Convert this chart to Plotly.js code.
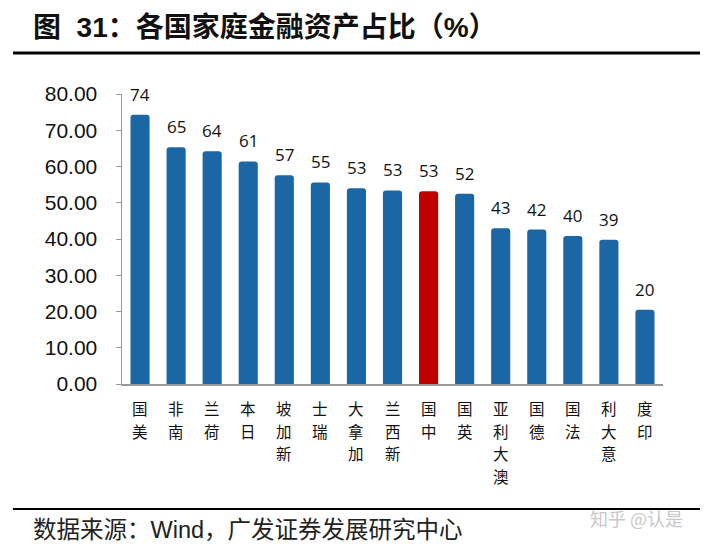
<!DOCTYPE html>
<html>
<head>
<meta charset="utf-8">
<script src="https://cdn.plot.ly/plotly-3.0.1.min.js"></script>
<style>html,body{margin:0;padding:0;background:#fff;}</style>
</head>
<body>
<div id="chart" style="width:707px;height:550px;"></div>
<script>
var countries = ["美国","南非","荷兰","日本","新加坡","瑞士","加拿大","新西兰","中国","英国","澳大利亚","德国","法国","意大利","印度"];
var values = [74.3, 65.3, 64.2, 61.4, 57.6, 55.6, 54.0, 53.4, 53.2, 52.5, 43.0, 42.6, 40.8, 39.8, 20.5];
var labels = ["74","65","64","61","57","55","53","53","53","52","43","42","40","39","20"];
var yTickVals = [0,10,20,30,40,50,60,70,80];
var yTickText = ["0.00","10.00","20.00","30.00","40.00","50.00","60.00","70.00","80.00"];
var highlight = "中国";

var colors = countries.map(function(c){ return c === highlight ? "#C00000" : "#1B67A6"; });

var trace = {
  type: "bar",
  x: countries,
  y: values,
  marker: {color: colors, cornerradius: 3},
  hoverinfo: "none"
};

function px2x(px){ return (px - 122) / 541; }
function px2y(py){ return (384 - py) / 290; }

var annotations = countries.map(function(c, i){
  return {x: c, y: values[i], xref: "x", yref: "y", text: labels[i], showarrow: false,
    yanchor: "bottom", yshift: 7, font: {family: "Open Sans, Liberation Sans, sans-serif", size: 17, color: "#111"}};
});

// Category labels: characters stacked vertically, read bottom-to-top (last character nearest the axis)
countries.forEach(function(c){
  var chars = c.split("").reverse();
  chars.forEach(function(ch, k){
    annotations.push({x: c, xref: "x", yref: "paper", y: px2y(408), yanchor: "middle", yshift: -22.5 * k,
      text: ch, showarrow: false, borderpad: 0,
      font: {family: "Noto Sans CJK SC, sans-serif", size: 15.5, color: "#111"}});
  });
});

annotations.push({xref: "paper", yref: "paper", x: px2x(31), y: px2y(27), xanchor: "left", yanchor: "middle",
  text: "<b>图  31：各国家庭金融资产占比（%）</b>", showarrow: false,
  font: {family: "Liberation Sans, Noto Sans CJK SC, sans-serif", size: 28, color: "#111"}});
annotations.push({xref: "paper", yref: "paper", x: px2x(31), y: px2y(530), xanchor: "left", yanchor: "middle",
  text: "数据来源：Wind，广发证券发展研究中心", showarrow: false,
  font: {family: "Liberation Sans, Noto Sans CJK SC, sans-serif", size: 23.5, color: "#222"}});
annotations.push({xref: "paper", yref: "paper", x: px2x(588), y: px2y(518), xanchor: "left", yanchor: "middle",
  text: "知乎 @认是", showarrow: false,
  font: {family: "Noto Sans CJK SC, sans-serif", size: 18, color: "#c8c8c8"}});

var layout = {
  width: 707, height: 550,
  margin: {l: 122, r: 44, t: 94, b: 166},
  paper_bgcolor: "#fff", plot_bgcolor: "#fff",
  showlegend: false,
  bargap: 0.47,
  xaxis: {
    type: "category",
    showticklabels: false,
    showline: true, linecolor: "#999", linewidth: 1.5,
    ticks: "", showgrid: false, zeroline: false
  },
  yaxis: {
    range: [0, 80],
    tickvals: yTickVals, ticktext: yTickText,
    showline: true, linecolor: "#999", linewidth: 1.5,
    ticks: "outside", ticklen: 5, tickcolor: "#999",
    showgrid: false, zeroline: false,
    tickfont: {family: "Liberation Sans, Arial, sans-serif", size: 21, color: "#111"},
    ticklabelstandoff: 14
  },
  annotations: annotations,
  shapes: [
    {type: "line", xref: "paper", yref: "paper", x0: px2x(13), x1: px2x(700), y0: px2y(53), y1: px2y(53),
      line: {color: "#000", width: 3}},
    {type: "line", xref: "paper", yref: "paper", x0: px2x(13), x1: px2x(700), y0: px2y(509), y1: px2y(509),
      line: {color: "#000", width: 2}}
  ]
};

Plotly.newPlot("chart", [trace], layout, {displayModeBar: false, staticPlot: true});
</script>
</body>
</html>
